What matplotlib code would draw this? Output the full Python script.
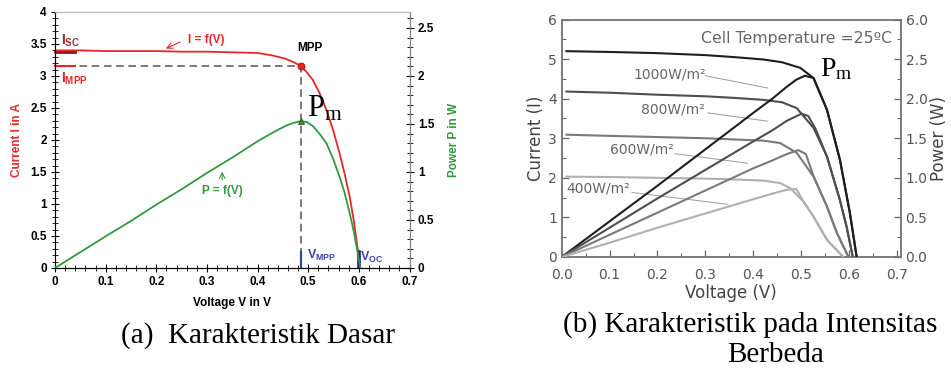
import matplotlib
matplotlib.use('Agg')
import matplotlib.pyplot as plt
from matplotlib.ticker import MultipleLocator, FixedLocator, FixedFormatter

plt.rcParams['mathtext.fontset'] = 'custom'
plt.rcParams['mathtext.rm'] = 'Liberation Serif'
plt.rcParams['mathtext.bf'] = 'Liberation Sans:bold'
plt.rcParams['mathtext.it'] = 'Liberation Serif:italic'

# ---- panel (a): basic characteristic ----
volt_a = [0, 0.05, 0.1, 0.15, 0.2, 0.25, 0.3, 0.35, 0.4, 0.43, 0.455, 0.47, 0.485,
          0.497, 0.509, 0.522, 0.536, 0.549, 0.562, 0.572, 0.582, 0.59, 0.598, 0.603]
current_a = [3.40, 3.40, 3.39, 3.39, 3.39, 3.38, 3.38, 3.37, 3.36, 3.32, 3.27, 3.22, 3.16,
             3.06, 2.94, 2.74, 2.47, 2.16, 1.79, 1.47, 1.11, 0.74, 0.28, 0.0]
power_a = [0, 0.165, 0.33, 0.49, 0.66, 0.82, 0.99, 1.15, 1.32, 1.41, 1.48, 1.51, 1.53,
           1.52, 1.48, 1.40, 1.30, 1.14, 0.95, 0.78, 0.57, 0.38, 0.15, 0.0]
v_mpp, i_mpp, p_mpp = 0.485, 3.15, 1.53
i_sc, v_oc = 3.38, 0.60

# ---- panel (b): different irradiance ----
irradiance = ['1000W/m²', '800W/m²', '600W/m²', '400W/m²']
iv_volt = {
    '1000W/m²': [0.01, 0.1, 0.2, 0.3, 0.36, 0.421, 0.46, 0.498, 0.526, 0.554, 0.581, 0.602, 0.616],
    '800W/m²': [0.01, 0.1, 0.2, 0.3, 0.36, 0.421, 0.46, 0.491, 0.526, 0.554, 0.581, 0.595, 0.608],
    '600W/m²': [0.01, 0.1, 0.2, 0.3, 0.36, 0.421, 0.456, 0.491, 0.526, 0.554, 0.575, 0.599],
    '400W/m²': [0.01, 0.1, 0.2, 0.3, 0.36, 0.421, 0.456, 0.477, 0.505, 0.526, 0.554, 0.588],
}
iv_curr = {
    '1000W/m²': [5.20, 5.18, 5.15, 5.10, 5.05, 4.99, 4.92, 4.78, 4.52, 3.72, 2.46, 1.11, 0.0],
    '800W/m²': [4.18, 4.15, 4.10, 4.06, 4.02, 3.97, 3.91, 3.76, 3.26, 2.54, 1.44, 0.77, 0.0],
    '600W/m²': [3.09, 3.06, 3.03, 3.00, 2.97, 2.94, 2.88, 2.63, 2.03, 1.27, 0.60, 0.0],
    '400W/m²': [2.03, 2.02, 2.00, 1.98, 1.96, 1.93, 1.87, 1.74, 1.40, 1.02, 0.43, 0.0],
}
pv_volt = {
    '1000W/m²': [0.0, 0.1, 0.2, 0.3, 0.4, 0.44, 0.47, 0.49, 0.508, 0.526, 0.554, 0.581, 0.602, 0.616],
    '800W/m²': [0.0, 0.1, 0.2, 0.3, 0.4, 0.44, 0.47, 0.501, 0.515, 0.53, 0.554, 0.581, 0.595, 0.608],
    '600W/m²': [0.0, 0.1, 0.2, 0.3, 0.4, 0.44, 0.47, 0.494, 0.51, 0.526, 0.554, 0.575, 0.599],
    '400W/m²': [0.0, 0.1, 0.2, 0.3, 0.4, 0.44, 0.47, 0.49, 0.505, 0.526, 0.554, 0.588],
}
pv_pow = {
    '1000W/m²': [0.0, 0.45, 0.90, 1.36, 1.82, 2.00, 2.15, 2.24, 2.29, 2.26, 1.86, 1.23, 0.55, 0.0],
    '800W/m²': [0.0, 0.37, 0.74, 1.10, 1.46, 1.60, 1.72, 1.81, 1.78, 1.62, 1.27, 0.72, 0.38, 0.0],
    '600W/m²': [0.0, 0.28, 0.56, 0.84, 1.12, 1.22, 1.30, 1.35, 1.30, 1.02, 0.64, 0.30, 0.0],
    '400W/m²': [0.0, 0.18, 0.37, 0.55, 0.73, 0.80, 0.85, 0.86, 0.70, 0.51, 0.22, 0.0],
}
curve_colors = {'1000W/m²': '#1e1e1e', '800W/m²': '#4e4e4e', '600W/m²': '#7a7a7a', '400W/m²': '#b0b0b0'}
# label text position and leader line end (in current-axis units)
label_pos = {'1000W/m²': (0.15, 4.62), '800W/m²': (0.165, 3.72), '600W/m²': (0.10, 2.72), '400W/m²': (0.01, 1.72)}
leader = {'1000W/m²': [(0.30, 4.58), (0.43, 4.27)], '800W/m²': [(0.306, 3.64), (0.43, 3.43)],
          '600W/m²': [(0.237, 2.61), (0.388, 2.37)], '400W/m²': [(0.147, 1.63), (0.347, 1.33)]}

RED = '#e8262a'
GREEN = '#2f9a3e'
BLUE = '#3646a8'
SANS = 'Liberation Sans'


def plot_basic(fig):
    ax = fig.add_axes([55 / 951, 1 - 268 / 373, 354.5 / 951, 256 / 373])
    ax2 = ax.twinx()
    ax.set_xlim(0, 0.7)
    ax.set_ylim(0, 4)
    ax2.set_ylim(0, 8 / 3)

    ax.plot(volt_a, current_a, color=RED, lw=1.3, zorder=3)
    ax2.plot(volt_a, power_a, color=GREEN, lw=1.3, zorder=3)

    # MPP guides
    ax.plot([0, v_mpp], [i_mpp, i_mpp], color='#555555', lw=1.1, ls=(0, (5, 3)), zorder=2)
    ax.plot([v_mpp, v_mpp], [0, i_mpp], color='#555555', lw=1.1, ls=(0, (5, 3)), zorder=2)
    ax.plot([v_mpp], [i_mpp], 'o', color=RED, ms=5, mec='#a01010', mew=0.6, zorder=4)
    ax2.plot([v_mpp], [p_mpp], '^', color='#4c8c2c', ms=4.5, mec='#2a5a1a', mew=0.6, zorder=4)

    # markers on axes
    ax.plot([0, 0.04], [i_sc, i_sc], color='#8b1a1a', lw=2, zorder=4, clip_on=False)
    ax.plot([0, 0.04], [i_mpp, i_mpp], color=RED, lw=1.5, zorder=4, clip_on=False)
    ax.plot([v_mpp, v_mpp], [0, 0.25], color=BLUE, lw=1.6, zorder=4)
    ax.plot([v_oc, v_oc], [0, 0.25], color='#1a2580', lw=2.6, zorder=4)

    ax.text(0.012, 3.55, r'$\mathbf{I_{SC}}$', color='#9b2a2a', fontsize=10, va='center')
    ax.text(0.012, 2.96, r'$\mathbf{I_{MPP}}$', color=RED, fontsize=10, va='center')
    ax.text(0.497, 0.2, r'$\mathbf{V_{MPP}}$', color=BLUE, fontsize=9, va='center')
    ax.text(0.602, 0.17, r'$\mathbf{V_{OC}}$', color=BLUE, fontsize=9, va='center')
    ax.text(0.503, 3.43, 'MPP', fontsize=8.5, fontweight='bold', family=SANS, ha='center', va='center')
    ax.text(0.262, 3.57, 'I = f(V)', color=RED, fontsize=8.5, fontweight='bold', family=SANS, va='center')
    ax.annotate('', xy=(0.214, 3.41), xytext=(0.252, 3.55),
                arrowprops=dict(arrowstyle='->', color=RED, lw=0.8))
    ax.text(0.33, 1.2, 'P = f(V)', color=GREEN, fontsize=8.5, fontweight='bold', family=SANS,
            ha='center', va='center')
    ax.annotate('', xy=(0.33, 1.55), xytext=(0.33, 1.33),
                arrowprops=dict(arrowstyle='->', color=GREEN, lw=0.8))
    ax.text(0.498, 2.5, r'$\mathrm{P_m}$', fontsize=22, va='center', ha='left')

    ax.xaxis.set_major_locator(MultipleLocator(0.1))
    ax.xaxis.set_minor_locator(MultipleLocator(0.02))
    ax.yaxis.set_major_locator(MultipleLocator(0.5))
    ax.yaxis.set_minor_locator(MultipleLocator(0.1))
    ax2.yaxis.set_major_locator(MultipleLocator(0.5))
    ax2.yaxis.set_minor_locator(MultipleLocator(0.1))
    ax.xaxis.set_major_formatter(lambda v, p: f'{v:g}')
    ax.yaxis.set_major_formatter(lambda v, p: f'{v:g}')
    ax2.yaxis.set_major_formatter(lambda v, p: f'{v:g}')

    for a in (ax, ax2):
        a.tick_params(which='major', direction='inout', length=6, width=0.8, labelsize=8.5, pad=3)
        a.tick_params(which='minor', direction='inout', length=4, width=0.6)
        for lab in a.get_xticklabels() + a.get_yticklabels():
            lab.set_fontweight('bold')
            lab.set_family(SANS)
    ax.tick_params(axis='x', which='both', top=False)
    ax.spines['top'].set_color('#bbbbbb')
    ax2.spines['top'].set_color('#bbbbbb')
    ax2.spines['right'].set_color('#888888')
    ax.spines['left'].set_color('#444444')
    ax.spines['bottom'].set_color('#444444')

    ax.set_xlabel('Voltage V in V', fontsize=8.5, fontweight='bold', family=SANS, labelpad=6)
    ax.set_ylabel('Current I in A', fontsize=8.5, fontweight='bold', family=SANS, color=RED, labelpad=5)
    ax2.set_ylabel('Power P in W', fontsize=8.5, fontweight='bold', family=SANS, color=GREEN, labelpad=10)
    return ax


def plot_irradiance(fig):
    ax = fig.add_axes([561.7 / 951, 1 - 257 / 373, 339 / 951, 237.5 / 373])
    ax2 = ax.twinx()
    ax.set_xlim(0, 0.708)
    ax.set_ylim(0, 6)
    ax2.set_ylim(0, 3)

    for name in irradiance:
        ax.plot(iv_volt[name], iv_curr[name], color=curve_colors[name], lw=1.5, zorder=3)
        ax2.plot(pv_volt[name], pv_pow[name], color=curve_colors[name], lw=1.5, zorder=3)
        x, y = label_pos[name]
        ax.text(x, y, name, fontsize=10, color='#666666', family='DejaVu Sans', va='center')
        (x0, y0), (x1, y1) = leader[name]
        ax.plot([x0, x1], [y0, y1], color='#9a9a9a', lw=0.7, zorder=2)

    ax.text(0.69, 5.52, 'Cell Temperature =25ºC', fontsize=11.3, color='#666666',
            family='DejaVu Sans', ha='right', va='center')
    ax.text(0.54, 4.78, r'$\mathrm{P_m}$', fontsize=20, va='center', ha='left')

    ax.xaxis.set_major_locator(MultipleLocator(0.1))
    ax.xaxis.set_minor_locator(MultipleLocator(0.05))
    ax.yaxis.set_major_locator(MultipleLocator(1))
    ax.yaxis.set_minor_locator(MultipleLocator(0.5))
    ax.xaxis.set_major_formatter(lambda v, p: f'{v:.1f}')
    ax2.yaxis.set_major_locator(FixedLocator([0, 0.5, 1, 1.5, 2, 2.5, 3]))
    ax2.yaxis.set_major_formatter(FixedFormatter(['0.0', '0.5', '1.0', '1.5', '2.0', '2.5', '6.0']))
    ax2.yaxis.set_minor_locator(MultipleLocator(0.25))

    for a in (ax, ax2):
        a.tick_params(which='major', direction='in', length=5, width=0.9, colors='#666666',
                      labelsize=10, labelcolor='#555555')
        a.tick_params(which='minor', direction='in', length=3, width=0.8, colors='#666666')
        for s in a.spines.values():
            s.set_color('#777777')
            s.set_linewidth(1.1)
    ax.tick_params(axis='x', which='major', pad=8)
    ax.set_xlabel('Voltage (V)', fontsize=12, color='#444444', labelpad=1)
    ax.set_ylabel('Current (I)', fontsize=12, color='#444444', labelpad=2)
    ax2.set_ylabel('Power (W)', fontsize=12, color='#444444', labelpad=2)
    return ax


if __name__ == '__main__':
    fig = plt.figure(figsize=(9.51, 3.73), dpi=100)
    plot_basic(fig)
    plot_irradiance(fig)

    fig.text(258 / 951, 1 - 336 / 373, '(a)  Karakteristik Dasar', family='Liberation Serif',
             fontsize=21, ha='center', va='center')
    fig.text(750 / 951, 1 - 325 / 373, '(b) Karakteristik pada Intensitas', family='Liberation Serif',
             fontsize=21, ha='center', va='center')
    fig.text(776 / 951, 1 - 355 / 373, 'Berbeda', family='Liberation Serif',
             fontsize=21, ha='center', va='center')

    fig.savefig('out.png', dpi=100)
